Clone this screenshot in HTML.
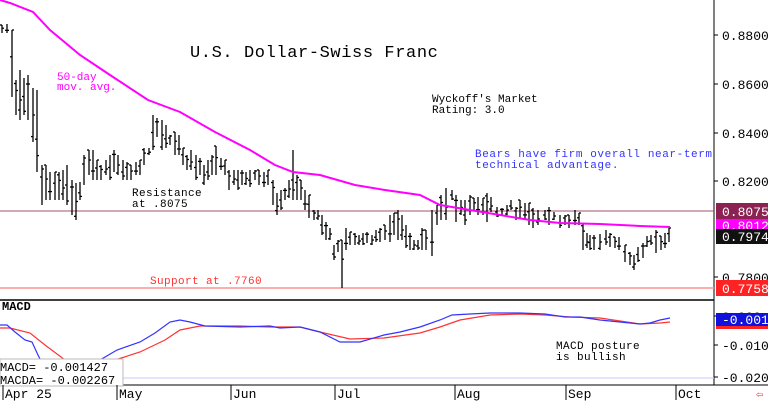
<!DOCTYPE html>
<html><head><meta charset="utf-8"><style>
body{margin:0;background:#fff}
svg{display:block}
text{font-family:"Liberation Mono","DejaVu Sans Mono",monospace}
</style></head><body>
<svg id="s" width="768" height="402" xmlns="http://www.w3.org/2000/svg">
<rect width="768" height="402" fill="#fff"/>
<line x1="714" y1="0" x2="714" y2="385" stroke="#000"/>
<line x1="0" y1="300" x2="714" y2="300" stroke="#000" stroke-width="1.5"/>
<line x1="0" y1="385" x2="768" y2="385" stroke="#000"/>
<line x1="0" y1="211" x2="714" y2="211" stroke="#a05070"/>
<line x1="0" y1="288" x2="714" y2="288" stroke="#ff9090" stroke-width="1.5"/>
<line x1="0" y1="378" x2="714" y2="378" stroke="#c8c8f8"/>
<g id="bars" stroke="#000" stroke-width="1.3"></g>
<polyline id="ma" fill="none" stroke="#f0f" stroke-width="2" points="0,0 10,3 33,12 50,30 80,55 110,75 148,100 180,112 215,132 250,150 275,165 293,172 320,175 355,185 385,190 420,195 440,205 470,210 500,215 530,220 560,223 600,224 640,226 670,227"/>
<polyline fill="none" stroke="#f33" stroke-width="1.2" points="0,328 10,328 30,333 45,345 65,360 90,368 115,360 140,352 165,340 180,330 200,326 240,326 270,327 300,327 320,332 350,339 384,338 420,333 440,327 460,320 490,315 520,314 545,315 570,317 600,318 620,321 640,324 660,323 670,322"/>
<polyline fill="none" stroke="#33f" stroke-width="1.2" points="0,325 7,325 15,332 25,340 32,342 38,355 43,365 60,380 80,382 100,360 117,350 140,342 155,333 170,322 180,320 190,322 205,326 240,327 270,326 280,328 300,327 320,332 340,342 360,342 384,335 400,332 420,327 440,320 452,315 470,314 490,313 520,313 545,314 565,317 580,317 600,320 620,322 640,324 650,323 660,320 670,318"/>
<rect x="0" y="359" width="123" height="27" fill="#fff" stroke="#bbb"/>
<text x="0" y="371" font-size="12">MACD=   -0.001427</text>
<text x="0" y="384" font-size="12">MACDA=  -0.002267</text>
<text x="2" y="310" font-size="12" font-weight="bold" font-family="Liberation Sans">MACD</text>
<text x="190" y="57" font-size="17" letter-spacing="0.6" font-family="Liberation Sans">U.S. Dollar-Swiss Franc</text>
<text x="57" y="80" font-size="11" fill="#f0f">50-day</text>
<text x="57" y="90" font-size="11" fill="#f0f">mov. avg.</text>
<text x="432" y="102" font-size="11">Wyckoff's Market</text>
<text x="432" y="113" font-size="11">Rating: 3.0</text>
<text x="475" y="157" font-size="11" letter-spacing="0.6" fill="#33f">Bears have firm overall near-term</text>
<text x="475" y="168" font-size="11" letter-spacing="0.6" fill="#33f">technical advantage.</text>
<text x="132" y="196" font-size="11" letter-spacing="0.4">Resistance</text>
<text x="132" y="207" font-size="11" letter-spacing="0.4">at .8075</text>
<text x="150" y="284" font-size="11" letter-spacing="0.4" fill="#f33">Support at .7760</text>
<text x="556" y="349" font-size="11" letter-spacing="0.4">MACD posture</text>
<text x="556" y="360" font-size="11" letter-spacing="0.4">is bullish</text>
<g font-size="13" fill="#000">
<text x="722" y="40">0.8800</text>
<text x="722" y="89">0.8600</text>
<text x="722" y="138">0.8400</text>
<text x="722" y="186">0.8200</text>
<text x="722" y="282">0.7800</text>
<text x="722" y="321">0.000</text>
<text x="722" y="350">-0.010</text>
<text x="722" y="382">-0.020</text>
</g>
<g stroke="#000"><line x1="714" y1="35" x2="718" y2="35"/><line x1="714" y1="84" x2="718" y2="84"/><line x1="714" y1="133" x2="718" y2="133"/><line x1="714" y1="181" x2="718" y2="181"/><line x1="714" y1="277" x2="718" y2="277"/><line x1="714" y1="316" x2="718" y2="316"/><line x1="714" y1="345" x2="718" y2="345"/><line x1="714" y1="377" x2="718" y2="377"/></g>
<rect x="716" y="203" width="52" height="16" fill="#8b2252"/>
<text x="722" y="216" font-size="13" fill="#fff">0.8075</text>
<rect x="716" y="219" width="52" height="11" fill="#f0f"/>
<text x="722" y="230" font-size="13" fill="#fff">0.8012</text>
<rect x="716" y="229" width="52" height="15" fill="#111"/>
<text x="722" y="241" font-size="13" fill="#fff">0.7974</text>
<rect x="716" y="280" width="52" height="16" fill="#f22"/>
<text x="722" y="293" font-size="13" fill="#fff">0.7758</text>
<rect x="716" y="313" width="52" height="13" fill="#11d"/>
<rect x="716" y="326" width="52" height="3" fill="#f22"/>
<text x="722" y="324" font-size="13" fill="#fff">-0.001</text>
<g stroke="#000"><line x1="3" y1="385" x2="3" y2="400"/><line x1="117" y1="385" x2="117" y2="400"/><line x1="231" y1="385" x2="231" y2="400"/><line x1="335" y1="385" x2="335" y2="400"/><line x1="455" y1="385" x2="455" y2="400"/><line x1="566" y1="385" x2="566" y2="400"/><line x1="676" y1="385" x2="676" y2="400"/></g>
<g font-size="13"><text x="5" y="398">Apr 25</text><text x="119" y="398">May</text><text x="233" y="398">Jun</text><text x="337" y="398">Jul</text><text x="457" y="398">Aug</text><text x="568" y="398">Sep</text><text x="678" y="398">Oct</text></g>
<text x="756" y="398" font-size="12" fill="#e22">⇦</text>
</svg>
<script>
var d=[[2,25,33],[7,24,33],[12,30,97],[16,80,115],[20,70,120],[24,78,115],[28,75,120],[33,88,142],[37,90,172],[42,165,205],[46,165,200],[50,172,200],[55,172,200],[59,172,200],[63,170,200],[67,165,205],[72,180,215],[76,183,220],[80,182,200],[84,155,185],[89,150,175],[93,150,180],[97,160,180],[101,165,180],[106,160,175],[110,155,180],[114,150,172],[118,155,175],[123,160,180],[127,162,180],[131,165,180],[136,162,175],[140,160,175],[144,148,165],[149,148,155],[153,115,150],[157,118,137],[162,120,150],[166,125,148],[170,135,145],[175,132,155],[179,135,155],[183,148,165],[187,155,170],[191,150,170],[196,155,180],[200,158,175],[204,165,185],[208,160,180],[212,155,175],[216,146,175],[221,158,170],[225,160,175],[229,170,190],[234,170,185],[238,170,190],[242,170,185],[246,172,185],[250,170,187],[255,170,180],[259,170,185],[264,172,187],[268,170,185],[273,180,205],[277,193,215],[281,190,210],[285,188,200],[289,180,198],[293,150,200],[297,175,200],[301,180,200],[305,190,210],[309,195,218],[314,210,220],[318,210,220],[322,215,235],[326,222,240],[330,228,240],[334,245,260],[338,240,252],[342,240,288],[346,228,250],[350,232,245],[355,233,245],[359,235,245],[363,233,245],[367,232,243],[372,235,245],[376,230,242],[380,228,242],[385,225,240],[390,215,242],[394,213,235],[398,210,240],[402,215,240],[406,225,248],[410,233,250],[414,240,250],[418,240,250],[422,228,250],[426,230,250],[432,210,256],[437,205,225],[441,195,220],[446,188,220],[452,190,200],[456,195,222],[461,200,215],[465,200,225],[470,195,215],[474,198,210],[478,197,215],[483,198,215],[487,193,222],[491,197,212],[497,207,217],[502,208,215],[507,205,215],[511,200,210],[516,207,220],[520,200,218],[525,203,220],[529,203,225],[533,208,228],[538,210,225],[545,210,220],[549,207,225],[554,212,220],[560,215,228],[565,215,225],[569,215,228],[575,210,225],[579,213,225],[583,223,250],[587,233,248],[590,235,250],[594,235,250],[600,234,250],[606,230,245],[610,233,247],[615,237,248],[619,237,250],[625,245,262],[630,252,265],[634,255,270],[638,247,262],[643,243,258],[647,236,247],[651,235,245],[656,230,253],[661,236,250],[665,233,248],[669,228,242]];
var g=document.getElementById('bars'),h='';
d.forEach(function(b,i){var x=b[0],a=b[1],c=b[2],o=a+(c-a)*((i*7)%10)/10,cl=a+(c-a)*((i*3+4)%10)/10;
h+='<line x1="'+x+'" y1="'+a+'" x2="'+x+'" y2="'+c+'"/><line x1="'+(x-2)+'" y1="'+o+'" x2="'+x+'" y2="'+o+'"/><line x1="'+x+'" y1="'+cl+'" x2="'+(x+2)+'" y2="'+cl+'"/>';});
g.innerHTML=h;
</script>
</body></html>
